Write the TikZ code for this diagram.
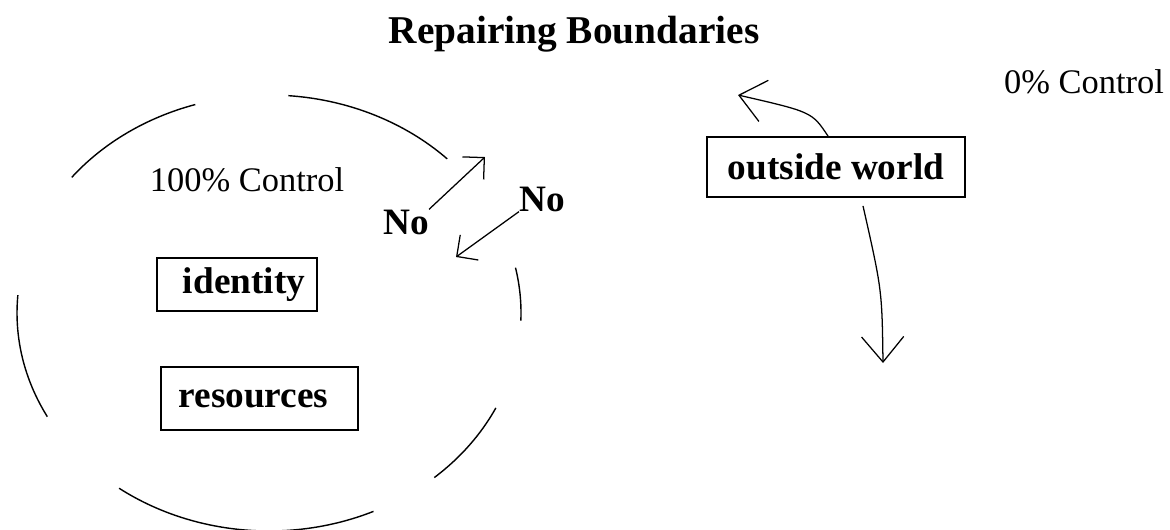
\documentclass[tikz,border=0pt]{standalone}
\usepackage{fontspec}
\setmainfont{Liberation Serif}
\usetikzlibrary{arrows.meta, positioning, calc}

\tikzset{
  plaintext/.style={font=\fontsize{24.5}{28}\selectfont, inner sep=0pt},
  boldtext/.style={font=\fontsize{26.5}{30}\selectfont\bfseries, inner sep=0pt},
  namebox/.style={draw, line width=1.3pt, font=\fontsize{26.5}{30}\selectfont\bfseries, inner sep=0pt},
  rim/.style={line width=1pt},
  noarrow/.style={line width=0.9pt, -{Straight Barb[length=11pt, width=22pt]}},
  worldarrow/.style={line width=0.9pt, -{Straight Barb[length=18pt, width=30pt]}}
}

\begin{document}
\begin{tikzpicture}[x=0.025cm, y=-0.025cm]
\useasboundingbox (0,0) rectangle (1170,529);

% titles
\node [boldtext, font=\fontsize{28}{32}\selectfont\bfseries, anchor=base] (title) at (574,43) {Repairing Boundaries};
\node [plaintext, anchor=base] (fullctrl) at (247,191) {100\% Control};
\node [plaintext, anchor=base] (noctrl) at (1084,93) {0\% Control};

% the boundary
\draw [rim] (269,313) ++(218.5:252 and 218) arc [start angle=218.5, end angle=253, x radius=252, y radius=218];
\draw [rim] (269,313) ++(274.4:252 and 218) arc [start angle=274.4, end angle=315, x radius=252, y radius=218];
\draw [rim] (269,313) ++(-12:252 and 218) arc [start angle=-12, end angle=2, x radius=252, y radius=218];
\draw [rim] (269,313) ++(25.8:252 and 218) arc [start angle=25.8, end angle=49, x radius=252, y radius=218];
\draw [rim] (269,313) ++(65.5:252 and 218) arc [start angle=65.5, end angle=126.5, x radius=252, y radius=218];
\draw [rim] (269,313) ++(151.6:252 and 218) arc [start angle=151.6, end angle=184.7, x radius=252, y radius=218];

% boxes
\node [namebox, minimum width=4cm, minimum height=1.325cm] (identity) at (237,284.5) {\hspace*{0.35cm}identity};
\node [namebox, minimum width=4.925cm, minimum height=1.575cm] (resources) at (259.5,398.5) {resources\hspace*{0.3cm}};
\node [namebox, minimum width=6.45cm, minimum height=1.5cm] (world) at (836,167) {outside world};

% no in, no out
\node [boldtext, anchor=base] (noin) at (406,234) {No};
\node [boldtext, anchor=base] (noout) at (542,211) {No};
\coordinate (outtip) at (485,157);
\coordinate (intip) at (456,257);
\draw [noarrow] (noin.north east) -- (outtip);
\draw [noarrow] (noout.south west) -- (intip);

% outside world
\coordinate (uptip) at (738,95);
\coordinate (downtip) at (883,363);
\draw [worldarrow] ([xshift=-0.2cm]world.north) .. controls (812,112) .. (uptip);
\draw [worldarrow] ([xshift=0.675cm, yshift=-0.2cm]world.south) .. controls (882,290) .. (downtip);
\end{tikzpicture}
\end{document}
